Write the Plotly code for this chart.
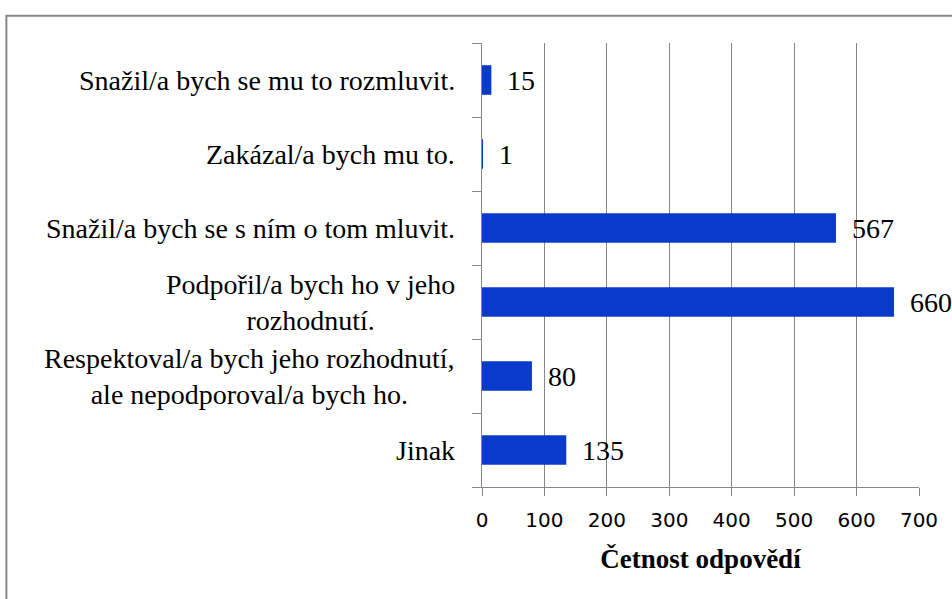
import plotly.graph_objects as go

categories = [
    "Jinak",
    "Respektoval/a bych jeho rozhodnutí,<br>ale nepodporoval/a bych ho.",
    "Podpořil/a bych ho v jeho<br>rozhodnutí.",
    "Snažil/a bych se s ním o tom mluvit.",
    "Zakázal/a bych mu to.",
    "Snažil/a bych se mu to rozmluvit.",
]
values = [135, 80, 660, 567, 1, 15]
x_ticks = [0, 100, 200, 300, 400, 500, 600, 700]
x_title = "Četnost odpovědí"

W, H = 952, 599
ML, MR, MT, MB = 481.5, 32.7, 42.7, 112.3
pw, ph = W - ML - MR, H - MT - MB

BAR = "#0A3ACC"
GRAY = "#888888"
SERIF = "Liberation Serif"

cat_ids = [f"c{i}" for i in range(len(categories))]

fig = go.Figure(go.Bar(
    x=values, y=cat_ids, orientation="h",
    marker=dict(color=BAR, line=dict(width=0)),
    hoverinfo="skip",
))
fig.update_layout(bargap=0.6)

annotations = []
for cid, label in zip(cat_ids, categories):
    annotations.append(dict(
        x=0, xref="paper", y=cid, yref="y", text=label, showarrow=False,
        xanchor="right", yanchor="middle", align="center", xshift=-25,
        font=dict(family=SERIF, size=28, color="black"),
    ))
for cid, v in zip(cat_ids, values):
    annotations.append(dict(
        x=v, xref="x", y=cid, yref="y", text=str(v), showarrow=False,
        xanchor="left", yanchor="middle", xshift=14,
        font=dict(family=SERIF, size=28, color="black"),
    ))

# outer frame (cropped chart border)
fx0 = (5 - ML) / pw
fx1 = (W + 20 - ML) / pw
fy1 = (H - MB - 15.5) / ph
fy0 = (H - MB - (H + 20)) / ph

fig.update_layout(
    width=W, height=H,
    margin=dict(l=ML, r=MR, t=MT, b=MB, pad=0),
    paper_bgcolor="white", plot_bgcolor="white",
    showlegend=False,
    annotations=annotations,
    shapes=[dict(type="rect", xref="paper", yref="paper",
                 x0=fx0, x1=fx1, y0=fy0, y1=fy1,
                 line=dict(color=GRAY, width=2), layer="below")],
    xaxis=dict(
        range=[0, 700], tickvals=x_ticks, ticktext=[str(t) for t in x_ticks],
        showgrid=True, gridcolor=GRAY, gridwidth=1,
        showline=True, linecolor=GRAY, linewidth=1,
        zeroline=False,
        ticks="outside", ticklen=8, tickcolor=GRAY,
        ticklabelstandoff=7,
        tickfont=dict(family="DejaVu Sans", size=20, color="black"),
        title=dict(text=x_title, standoff=18,
                   font=dict(family=SERIF, size=27, color="black", weight="bold")),
    ),
    yaxis=dict(
        type="category", categoryorder="array", categoryarray=cat_ids,
        range=[-0.5, 5.5],
        showticklabels=False, tickson="boundaries",
        ticks="outside", ticklen=9, tickcolor=GRAY,
        showgrid=False, showline=True, linecolor=GRAY, linewidth=1,
        zeroline=False,
    ),
)

fig.write_html("out.html", config={"displayModeBar": False},
               post_script="document.body.style.margin='0px';document.body.style.overflow='hidden';")
